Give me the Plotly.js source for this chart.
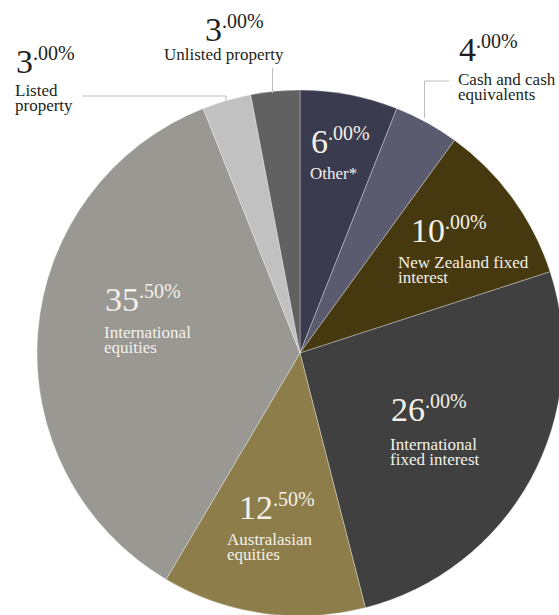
<!DOCTYPE html>
<html>
<head>
<meta charset="utf-8">
<script src="https://cdn.plot.ly/plotly-3.0.1.min.js"></script>
<style>
html,body{margin:0;padding:0;background:#fff;overflow:hidden;width:559px;height:615px;}
#chart{width:600px;height:660px;}
</style>
</head>
<body>
<div id="chart"></div>
<script>
// ---- data ----
const categories = ['Other*', 'Cash and cash equivalents', 'New Zealand fixed interest', 'International fixed interest', 'Australasian equities', 'International equities', 'Listed property', 'Unlisted property'];
const values = [6.00, 4.00, 10.00, 26.00, 12.50, 35.50, 3.00, 3.00];
const labelLines = [['Other*'], ['Cash and cash', 'equivalents'], ['New Zealand fixed', 'interest'], ['International', 'fixed interest'], ['Australasian', 'equities'], ['International', 'equities'], ['Listed', 'property'], ['Unlisted property']];
const colors = ['#3b3b4f', '#5b5b6f', '#46390f', '#404040', '#8c7d4b', '#9a9893', '#c1c1c1', '#616161'];

// ---- layout helpers (positions in px of the page) ----
const W = 600, H = 660;
const px = x => x / W;
const py = y => 1 - y / H;
// number position: left x, baseline y ; label: left x, first baseline y
const numPos = [[309,154],[457,62],[409,243],[389,422],[237,520],[103,312],[14,74],[203,42]];
const labPos = [[309,180],[457,86],[397,269],[389,451],[226,546],[103,339],[14,97],[163,61]];
const inside = [true,false,true,true,true,true,false,false];
const lineGap = 15;               // px between baselines
const labelSize = 17;
const serif = 'Liberation Serif, Times New Roman, serif';

const annotations = [];
values.forEach((v, i) => {
  const parts = v.toFixed(2).split('.');
  const col = inside[i] ? '#f3f1ea' : '#231f20';
  annotations.push({
    xref:'paper', yref:'paper', x:px(numPos[i][0]), y:py(numPos[i][1] + 8),
    xanchor:'left', yanchor:'bottom', showarrow:false, align:'left',
    text: '<span style="font-size:34px">' + parts[0] + '</span><sup><span style="font-size:20px">.' + parts[1] + '%</span></sup>',
    font:{family:serif, size:30, color:col}
  });
  const n = labelLines[i].length;
  annotations.push({
    xref:'paper', yref:'paper', x:px(labPos[i][0]), y:py(labPos[i][1] + (n-1)*lineGap + 3.7),
    xanchor:'left', yanchor:'bottom', showarrow:false, align:'left', borderpad:0,
    text: labelLines[i].map(s => '<span style="font-size:' + labelSize + 'px">' + s + '</span>').join('<br>'),
    font:{family:serif, size:lineGap/1.3, color:col}
  });
});

const lc = '#bdbdbd';
const shapes = [
  {type:'path', xref:'paper', yref:'paper', path:`M ${px(82)} ${py(96)} L ${px(226)} ${py(96)} L ${px(226)} ${py(101)}`, line:{color:lc, width:1}},
  {type:'line', xref:'paper', yref:'paper', x0:px(272.5), y0:py(68), x1:px(272.5), y1:py(93), line:{color:lc, width:1}},
  {type:'path', xref:'paper', yref:'paper', path:`M ${px(449)} ${py(81)} L ${px(424.5)} ${py(81)} L ${px(424.5)} ${py(118)}`, line:{color:lc, width:1}}
];

const trace = {
  type:'pie', values: values, labels: categories, sort:false, direction:'clockwise', rotation:0,
  textinfo:'none', hoverinfo:'none',
  marker:{colors: colors, line:{color:'rgba(255,255,255,0.45)', width:0.7}},
  domain:{x:[px(37), px(563)], y:[py(616), py(90)]},
  showlegend:false
};

Plotly.newPlot('chart', [trace], {
  width: W, height: H, margin:{l:0,r:0,t:0,b:0},
  paper_bgcolor:'#fff', plot_bgcolor:'#fff', showlegend:false,
  annotations: annotations, shapes: shapes
}, {displayModeBar:false, staticPlot:true});
</script>
</body>
</html>
